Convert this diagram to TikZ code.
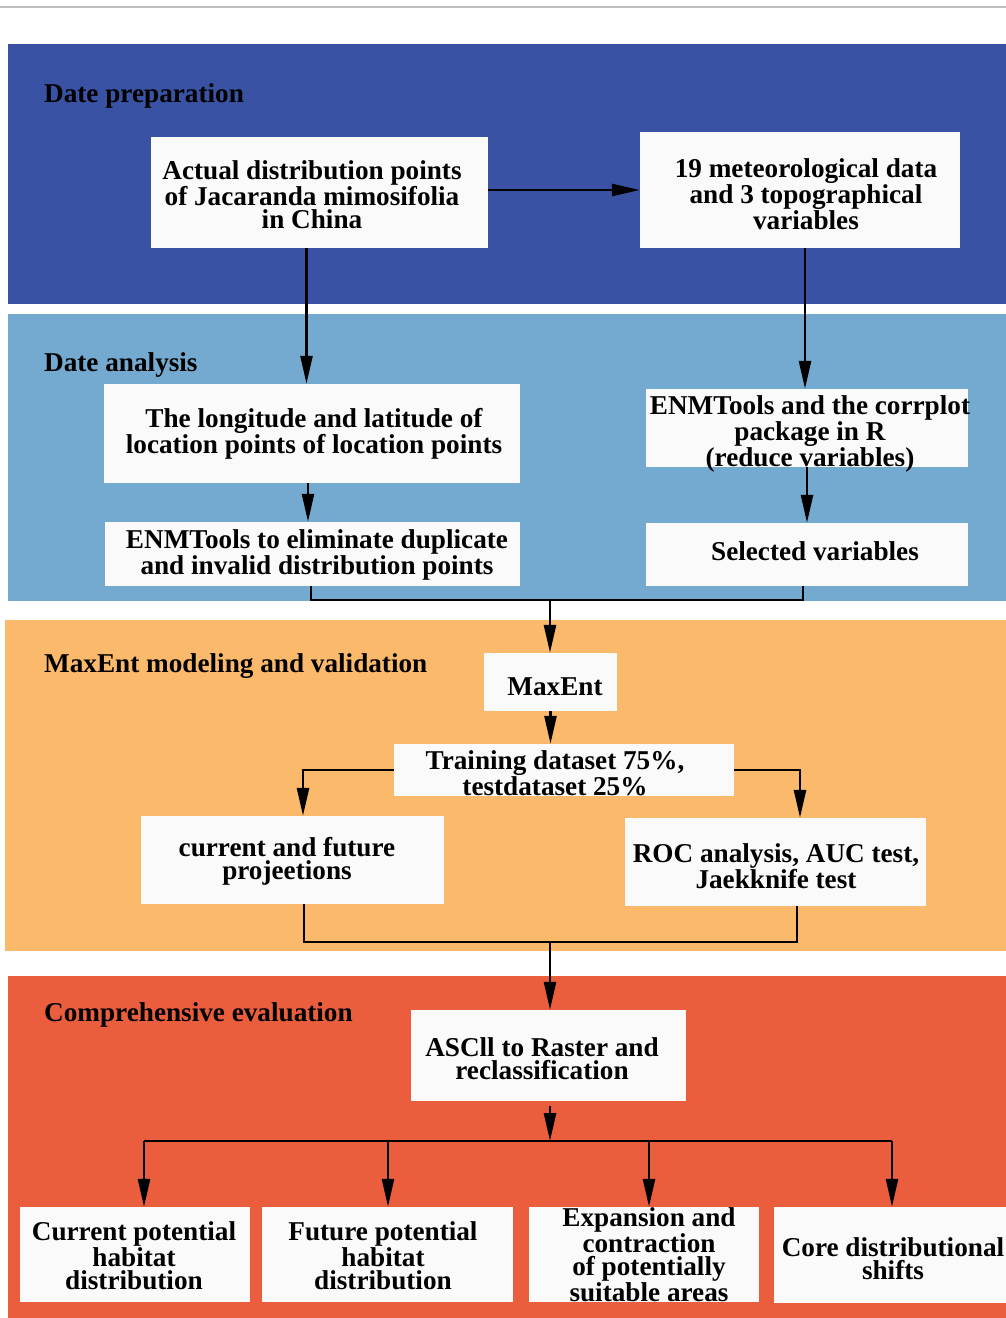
\documentclass[tikz,border=0pt]{standalone}
\usepackage{fontspec}
\setmainfont{Liberation Serif}
\usetikzlibrary{arrows.meta,calc}
\definecolor{bandA}{RGB}{57,82,163}
\definecolor{bandB}{RGB}{116,170,207}
\definecolor{bandC}{RGB}{251,185,108}
\definecolor{bandD}{RGB}{234,94,62}
\definecolor{boxfill}{RGB}{250,250,250}
\definecolor{topline}{RGB}{190,190,190}
\newcommand\diafont{\fontsize{27.2}{23.3}\selectfont\bfseries}
\begin{document}
\begin{tikzpicture}[x=1pt,y=-1pt,
  whitebox/.style={draw=none,fill=boxfill,inner sep=0pt},
  boxtext/.style={inner sep=0pt,align=center,font=\diafont},
  sectitle/.style={anchor=base west,inner sep=0pt,font=\diafont},
  conn/.style={line width=2.6pt,draw=black},
  arr/.style={conn,-{Triangle[length=28pt,width=12pt]}}]
\useasboundingbox (0,0) rectangle (1006,1318);
\fill[white] (0,0) rectangle (1006,1318);
\draw[topline,line width=2pt] (0,7) -- (1006,7);
% bands
\fill[bandA] (8,44) rectangle (1006,304);
\fill[bandB] (8,314) rectangle (1006,601);
\fill[bandC] (5,620) rectangle (1006,951);
\fill[bandD] (8,976) rectangle (1006,1318);
% titles
\node[sectitle] (t1) at (44,102) {Date preparation};
\node[sectitle] (t2) at (44,371) {Date analysis};
\node[sectitle] (t3) at (44,672) {MaxEnt modeling and validation};
\node[sectitle] (t4) at (44,1021) {Comprehensive evaluation};
% boxes
\node[whitebox,minimum width=337,minimum height=111] (A) at (319.5,192.5) {};
\node[whitebox,minimum width=320,minimum height=116] (B) at (800,190) {};
\node[whitebox,minimum width=416,minimum height=99] (C) at (312,433.5) {};
\node[whitebox,minimum width=322,minimum height=78] (D) at (807,428) {};
\node[whitebox,minimum width=415,minimum height=64] (E) at (312.5,554) {};
\node[whitebox,minimum width=322,minimum height=63] (F) at (807,554.5) {};
\node[whitebox,minimum width=133,minimum height=58] (G) at (550.5,682) {};
\node[whitebox,minimum width=340,minimum height=52] (H) at (564,770) {};
\node[whitebox,minimum width=303,minimum height=88] (I) at (292.5,860) {};
\node[whitebox,minimum width=301,minimum height=88] (J) at (775.5,862) {};
\node[whitebox,minimum width=275,minimum height=91] (K) at (548.5,1055.5) {};
\node[whitebox,minimum width=230,minimum height=95] (L1) at (135,1254.5) {};
\node[whitebox,minimum width=251,minimum height=95] (L2) at (387.5,1254.5) {};
\node[whitebox,minimum width=230,minimum height=95] (L3) at (644,1254.5) {};
\node[whitebox,minimum width=238,minimum height=96] (L4) at (893,1255) {};
% box texts
\node[boxtext] (Atx) at (312,195) {Actual distribution points\\of Jacaranda mimosifolia\\in China};
\node[boxtext] (Btx) at (806,194) {19 meteorological data\\and 3 topographical\\variables};
\node[boxtext] (Ctx) at (314,434) {The longitude and latitude of\\location points of location points};
\node[boxtext] (Dtx) at (810,434) {ENMTools and the corrplot\\package in R\\(reduce variables)};
\node[boxtext] (Etx) at (317,555) {ENMTools to eliminate duplicate\\and invalid distribution points};
\node[boxtext] (Ftx) at (815,551) {Selected variables};
\node[boxtext] (Gtx) at (555,687) {MaxEnt};
\node[boxtext] (Htx) at (555,773) {Training dataset 75\%,\\testdataset 25\%};
\node[boxtext] (Itx) at (287,861) {current and future\\projeetions};
\node[boxtext] (Jtx) at (776,866) {ROC analysis, AUC test,\\Jaekknife test};
\node[boxtext] (Ktx) at (542,1059) {ASCll to Raster and\\reclassification};
\node[boxtext] (L1tx) at (134,1256) {Current potential\\habitat\\distribution};
\node[boxtext] (L2tx) at (383,1256) {Future potential\\habitat\\distribution};
\node[boxtext] (L3tx) at (649,1255) {Expansion and\\contraction\\of potentially\\suitable areas};
\node[boxtext] (L4tx) at (893,1259) {Core distributional\\shifts};
% junction coordinates
\coordinate (m1) at (550,600);
\coordinate (m2) at (550,942);
\coordinate (m3) at (550,1141);
\coordinate (h1) at (144,1141);
\coordinate (h2) at (388,1141);
\coordinate (h3) at (649,1141);
\coordinate (h4) at (892,1141);
% connectors
\draw[arr] (A.east |- B.west) -- (B.west);
\draw[arr] ([xshift=-13pt]A.south) -- ([xshift=-13pt]A.south |- C.north);
\draw[arr] ([xshift=5pt]B.south) -- ([xshift=5pt]B.south |- D.north);
\draw[arr] ([xshift=-4pt]C.south) -- ([xshift=-4pt]C.south |- E.north);
\draw[arr] (D.south) -- (F.north);
\draw[conn] ([xshift=-1.5pt]E.south) |- (m1) -| ([xshift=-4pt]F.south);
\draw[arr] (m1) -- (m1 |- G.north);
\draw[arr] (G.south) -- (G.south |- H.north);
\draw[arr] (H.west) -| ([xshift=10.5pt]I.north);
\draw[arr] (H.east) -| ([xshift=24.5pt]J.north);
\draw[conn] ([xshift=11.5pt]I.south) |- (m2) -| ([xshift=21.5pt]J.south);
\draw[arr] (m2) -- (m2 |- K.north);
\draw[arr] ([yshift=-5pt]K.south -| m3) -- (m3);
\draw[conn] (h1) -- (h4);
\draw[arr] (h1) -- (h1 |- L1.north);
\draw[arr] (h2) -- (h2 |- L2.north);
\draw[arr] (h3) -- (h3 |- L3.north);
\draw[arr] (h4) -- (h4 |- L4.north);
\end{tikzpicture}
\end{document}
